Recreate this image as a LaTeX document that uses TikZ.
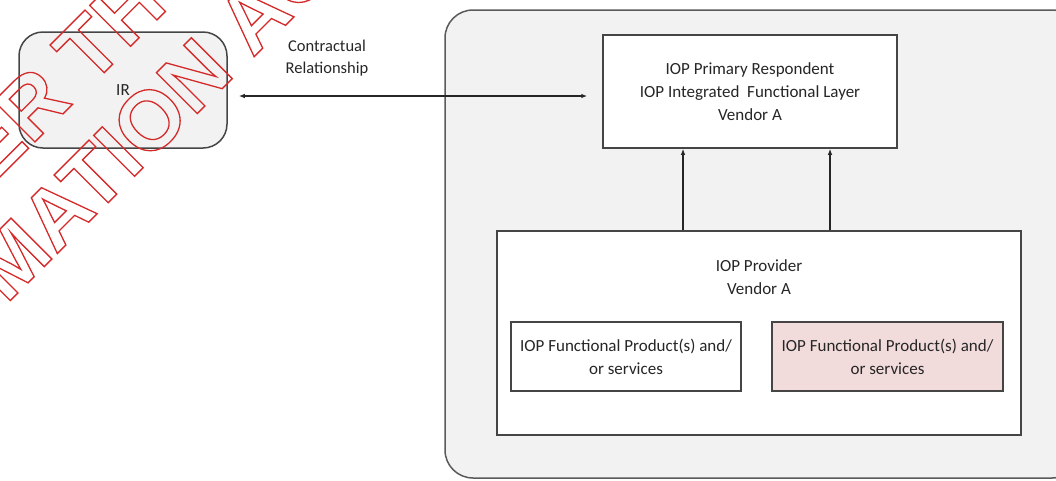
\documentclass[tikz,border=0pt]{standalone}
\usepackage{fontspec}
\setmainfont{Carlito}
\newfontfamily\wmfont{Liberation Sans}
\usetikzlibrary{arrows.meta}

\definecolor{panelgray}{HTML}{F2F2F2}
\definecolor{edgegray}{HTML}{454545}
\definecolor{rimgray}{HTML}{5A5A5A}
\definecolor{pinkfill}{HTML}{F2DCDB}
\definecolor{inkgray}{HTML}{262626}
\definecolor{stampred}{HTML}{D42A2A}

% outlined (stroked, unfilled) text for the stamp
\newcommand\hollowtext[1]{\special{pdf:literal direct 1 Tr 1.3 w}#1\special{pdf:literal direct 0 Tr}}

\tikzset{
  every node/.style={text=inkgray, font=\fontsize{17}{23}\selectfont},
  panel/.style={draw=rimgray, line width=1.5pt, fill=panelgray, rounded corners=28pt, inner sep=0pt},
  softbox/.style={draw=edgegray, line width=1.5pt, fill=panelgray, rounded corners=24pt, inner sep=0pt, align=center},
  plainbox/.style={draw=edgegray, line width=1.5pt, fill=white, inner sep=0pt, align=center},
  pinkbox/.style={plainbox, fill=pinkfill},
  link/.style={draw=inkgray, line width=1.1pt, -{Latex[length=6pt,width=4.5pt]}},
  twoway/.style={draw=inkgray, line width=1.1pt, {Latex[length=6pt,width=4.5pt]}-{Latex[length=6pt,width=4.5pt]}},
  stamp/.style={text=stampred, font=\wmfont\bfseries\fontsize{84}{84}\selectfont, inner sep=0pt, rotate=45},
}

\begin{document}
\begin{tikzpicture}[x=1pt, y=-1pt]
  \useasboundingbox (0,0) rectangle (1056,480);

  % large grey panel holding the vendor boxes
  \node[panel, minimum width=635pt, minimum height=468pt] (zone) at (762.5,244) {};

  % IR
  \node[softbox, minimum width=208pt, minimum height=116pt] (ir) at (123,90) {IR};

  % primary respondent
  \node[plainbox, minimum width=294pt, minimum height=113pt] (resp) at (750,91.5)
    {IOP Primary Respondent\\IOP Integrated\ \ Functional Layer\\Vendor A};

  % provider and its products
  \node[plainbox, minimum width=524pt, minimum height=204pt] (prov) at (759,333) {};
  \node (provlbl) at (759,277) [align=center] {IOP Provider\\Vendor A};
  \node[plainbox, minimum width=230pt, minimum height=69pt] (prodA) at (626,356.5)
    {IOP Functional Product(s) and/\\or services};
  \node[pinkbox, minimum width=231pt, minimum height=69pt] (prodB) at (887.5,356.5)
    {IOP Functional Product(s) and/\\or services};

  % connectors
  \coordinate (lx) at (683,0);
  \coordinate (rx) at (830,0);
  \coordinate (ay) at (0,96);
  \draw[link] (prov.north -| lx) -- (resp.south -| lx);
  \draw[link] (prov.north -| rx) -- (resp.south -| rx);
  \draw[twoway, shorten <=11pt, shorten >=15pt] (ir.east |- ay) -- (resp.west |- ay);
  \node (rel) at (327,58) [align=center, font=\fontsize{16.5}{22}\selectfont] {Contractual\\Relationship};

  % diagonal stamp across the upper left
  \begin{scope}
    \clip (0,0) rectangle (1056,480);
    \node[stamp] (stampA) at (60,76) {\hollowtext{ER TH}};
    \node[stamp] (stampB) at (152,118) {\hollowtext{MATION AC}};
  \end{scope}
\end{tikzpicture}
\end{document}
